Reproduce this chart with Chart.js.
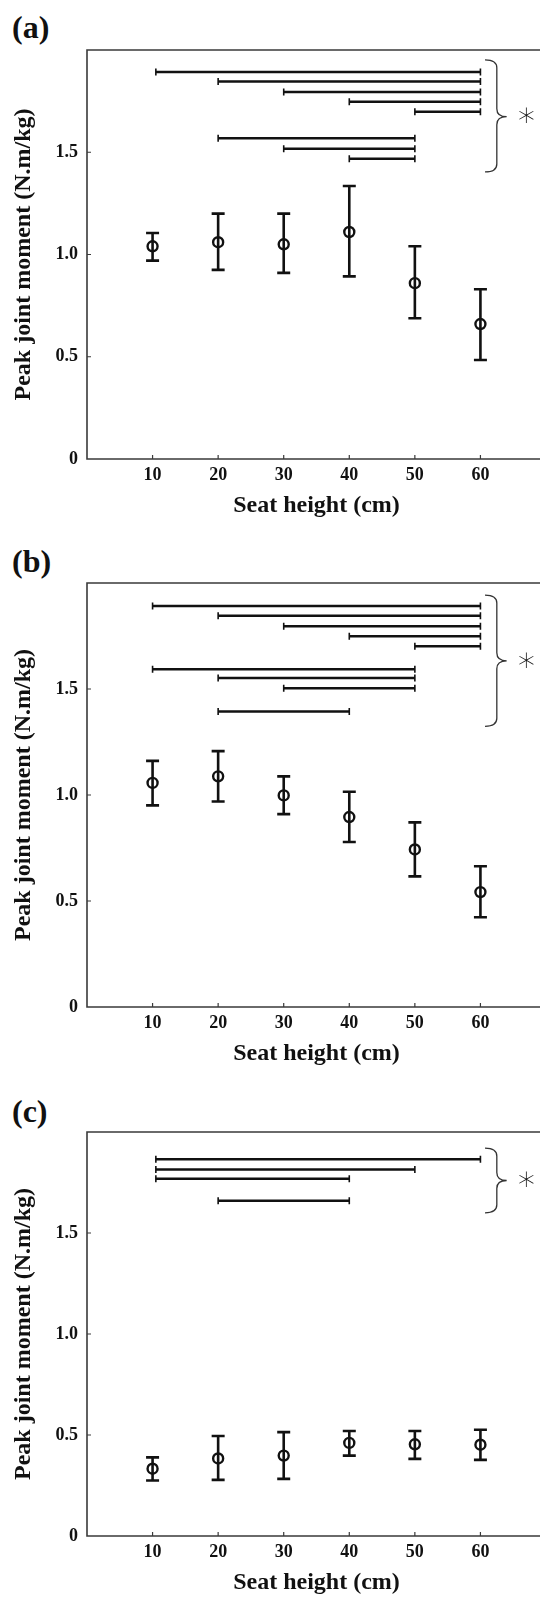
<!DOCTYPE html>
<html>
<head>
<meta charset="utf-8">
<script src="https://cdn.jsdelivr.net/npm/chart.js@4.4.0/dist/chart.umd.min.js"></script>
<style>
  html, body { margin: 0; padding: 0; background: #fff; width: 540px; height: 1607px; overflow: hidden; }
  .panel { position: absolute; left: 0; }
  .tag { position: absolute; left: 12px; font: bold 32px "Liberation Serif", serif; color: #111; line-height: 1; }
</style>
</head>
<body>
<div class="tag" style="top:11px">(a)</div>
<div class="tag" style="top:545px">(b)</div>
<div class="tag" style="top:1095px">(c)</div>
<canvas id="chartA" class="panel" style="top:0px" width="560" height="525"></canvas>
<canvas id="chartB" class="panel" style="top:520px" width="560" height="553"></canvas>
<canvas id="chartC" class="panel" style="top:1070px" width="560" height="532"></canvas>
<script>
const seatHeights = [10, 20, 30, 40, 50, 60];

// (a)
const meanA = [1.04, 1.06, 1.05, 1.11, 0.86, 0.66];
const highA = [1.105, 1.20, 1.20, 1.335, 1.04, 0.83];
const lowA = [0.97, 0.925, 0.91, 0.893, 0.688, 0.484];
const sigFromA = [10.5, 20, 30, 40, 50, 20, 30, 40];
const sigToA = [60, 60, 60, 60, 60, 50, 50, 50];
const sigLevelA = [1.893, 1.846, 1.795, 1.747, 1.698, 1.568, 1.517, 1.468];
const braceA = [1.952, 1.674, 1.404];

// (b)
const meanB = [1.057, 1.088, 0.998, 0.896, 0.743, 0.542];
const highB = [1.161, 1.207, 1.088, 1.015, 0.871, 0.664];
const lowB = [0.951, 0.969, 0.910, 0.778, 0.616, 0.423];
const sigFromB = [10, 20, 30, 40, 50, 10, 20, 30, 20];
const sigToB = [60, 60, 60, 60, 60, 50, 50, 50, 40];
const sigLevelB = [1.891, 1.845, 1.796, 1.749, 1.702, 1.593, 1.552, 1.503, 1.394];
const braceB = [1.943, 1.633, 1.324];

// (c)
const meanC = [0.333, 0.384, 0.398, 0.461, 0.454, 0.452];
const highC = [0.389, 0.495, 0.514, 0.520, 0.520, 0.526];
const lowC = [0.275, 0.278, 0.283, 0.398, 0.382, 0.377];
const sigFromC = [10.5, 10.5, 10.5, 20];
const sigToC = [60, 50, 40, 40];
const sigLevelC = [1.865, 1.814, 1.768, 1.660];
const braceC = [1.92, 1.76, 1.60];

const yTicks = [0, 0.5, 1.0, 1.5];
const serif = '"Liberation Serif", "Times New Roman", serif';

function makePanel(id, means, highs, lows, sigFrom, sigTo, sigLevel, brace, padTop) {
    const decor = {
        id: 'decor',
        beforeDatasetsDraw(chart) {
            const { ctx, chartArea: a, scales: { x, y } } = chart;
            ctx.save();
            // frame (right side runs off the page)
            ctx.strokeStyle = '#3a3a3a';
            ctx.lineWidth = 1.6;
            ctx.beginPath();
            ctx.moveTo(chart.width, a.top);
            ctx.lineTo(a.left, a.top);
            ctx.lineTo(a.left, a.bottom);
            ctx.lineTo(chart.width, a.bottom);
            ctx.stroke();

            // inward ticks
            ctx.lineWidth = 1.2;
            ctx.beginPath();
            seatHeights.forEach(s => {
                const px = x.getPixelForValue(s);
                ctx.moveTo(px, a.bottom);
                ctx.lineTo(px, a.bottom - 4);
            });
            yTicks.slice(1).forEach(v => {
                const py = y.getPixelForValue(v);
                ctx.moveTo(a.left, py);
                ctx.lineTo(a.left + 4, py);
            });
            ctx.stroke();

            // error bars (run through the open circles)
            ctx.strokeStyle = '#111';
            ctx.lineWidth = 2.6;
            means.forEach((m, i) => {
                const px = x.getPixelForValue(seatHeights[i]);
                const t = y.getPixelForValue(highs[i]);
                const b = y.getPixelForValue(lows[i]);
                ctx.beginPath();
                ctx.moveTo(px, t); ctx.lineTo(px, b);
                ctx.moveTo(px - 6.5, t); ctx.lineTo(px + 6.5, t);
                ctx.moveTo(px - 6.5, b); ctx.lineTo(px + 6.5, b);
                ctx.stroke();
            });

            // significance bars
            sigLevel.forEach((lv, i) => {
                const py = y.getPixelForValue(lv);
                const x0 = x.getPixelForValue(sigFrom[i]);
                const x1 = x.getPixelForValue(sigTo[i]);
                ctx.lineWidth = 2.5;
                ctx.beginPath();
                ctx.moveTo(x0, py); ctx.lineTo(x1, py);
                ctx.stroke();
                ctx.lineWidth = 1.6;
                ctx.beginPath();
                ctx.moveTo(x0, py - 3.5); ctx.lineTo(x0, py + 3.5);
                ctx.moveTo(x1, py - 3.5); ctx.lineTo(x1, py + 3.5);
                ctx.stroke();
            });

            // brace and asterisk
            const bx0 = x.getPixelForValue(60.7);
            const bxm = x.getPixelForValue(62.5);
            const bx1 = x.getPixelForValue(64.0);
            const top = y.getPixelForValue(brace[0]);
            const mid = y.getPixelForValue(brace[1]);
            const bot = y.getPixelForValue(brace[2]);
            const r = 8;
            ctx.strokeStyle = '#333';
            ctx.lineWidth = 1.3;
            ctx.beginPath();
            ctx.moveTo(bx0, top);
            ctx.quadraticCurveTo(bxm, top, bxm, top + r);
            ctx.lineTo(bxm, mid - r);
            ctx.quadraticCurveTo(bxm, mid, bx1, mid);
            ctx.quadraticCurveTo(bxm, mid, bxm, mid + r);
            ctx.lineTo(bxm, bot - r);
            ctx.quadraticCurveTo(bxm, bot, bx0, bot);
            ctx.stroke();
            ctx.fillStyle = '#111';
            ctx.font = '300 34px "DejaVu Sans"';
            ctx.textAlign = 'center';
            ctx.textBaseline = 'middle';
            ctx.fillText('\u2217', x.getPixelForValue(67), mid + 1);
            ctx.restore();
        }
    };

    new Chart(document.getElementById(id), {
        type: 'scatter',
        data: {
            datasets: [{
                data: seatHeights.map((s, i) => ({ x: s, y: means[i] })),
                pointRadius: 5,
                pointHoverRadius: 5,
                pointBorderWidth: 2.4,
                borderColor: '#111',
                backgroundColor: 'rgba(0,0,0,0)'
            }]
        },
        options: {
            responsive: false,
            animation: false,
            events: [],
            layout: { padding: { top: padTop, right: 14, left: 0, bottom: 0 } },
            plugins: { legend: { display: false }, tooltip: { enabled: false } },
            scales: {
                x: {
                    type: 'linear', min: 0, max: 70,
                    afterFit: s => { s.height = 66; },
                    grid: { display: false, drawTicks: false },
                    border: { display: false },
                    ticks: {
                        stepSize: 10, autoSkip: false, maxRotation: 0, padding: 6,
                        color: '#111', font: { family: serif, size: 18, weight: 'bold' },
                        callback: v => (v >= 10 && v <= 60) ? String(v) : ''
                    },
                    title: {
                        display: true, text: 'Seat height (cm)', color: '#111',
                        font: { family: serif, size: 24, weight: 'bold' },
                        padding: { top: 0, bottom: 4.6 }
                    }
                },
                y: {
                    min: 0, max: 2,
                    afterFit: s => { s.width = 87; },
                    afterBuildTicks: s => { s.ticks = yTicks.map(v => ({ value: v })); },
                    grid: { display: false, drawTicks: false },
                    border: { display: false },
                    ticks: {
                        padding: 9, color: '#111',
                        font: { family: serif, size: 18, weight: 'bold' },
                        callback: v => v === 0 ? '0' : v.toFixed(1)
                    },
                    title: {
                        display: true, text: 'Peak joint moment (N.m/kg)', color: '#111',
                        font: { family: serif, size: 24, weight: 'bold' },
                        padding: { top: 9.6, bottom: 0 }
                    }
                }
            }
        },
        plugins: [decor]
    });
}

makePanel('chartA', meanA, highA, lowA, sigFromA, sigToA, sigLevelA, braceA, 50);
makePanel('chartB', meanB, highB, lowB, sigFromB, sigToB, sigLevelB, braceB, 63);
makePanel('chartC', meanC, highC, lowC, sigFromC, sigToC, sigLevelC, braceC, 62);
</script>
</body>
</html>
